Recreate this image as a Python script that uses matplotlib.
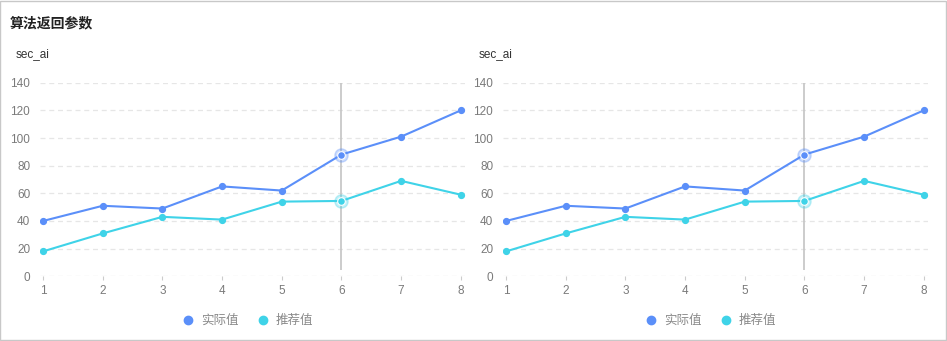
import matplotlib
matplotlib.use('Agg')
import matplotlib.pyplot as plt
from matplotlib.patches import Rectangle

plt.rcParams['font.family'] = ['Liberation Sans', 'Noto Sans CJK SC', 'DejaVu Sans']

# data
x = [1, 2, 3, 4, 5, 6, 7, 8]
shiji = [40, 51, 49, 65, 62, 88, 101, 120]
tuijian = [18, 31, 43, 41, 54, 54.5, 69, 59]
yticks = [0, 20, 40, 60, 80, 100, 120, 140]
hover_x = 6

azul = '#5B8FF9'
cian = '#3FD3E8'

fig = plt.figure(figsize=(9.47, 3.41), dpi=100)
fig.patches.append(Rectangle((0.0005, 0.0015), 0.998, 0.996, transform=fig.transFigure,
                             fill=False, edgecolor='#c8c8c8', linewidth=1))

fig.text(10 / 947, 1 - 23 / 341, '算法返回参数', fontsize=10, fontweight='bold',
         color='#222222', va='center', ha='left', family=['Noto Sans CJK SC'])

posiciones = [(40 / 947, 64.7 / 341, 425 / 947, 193.6 / 341),
              (503 / 947, 64.7 / 341, 425 / 947, 193.6 / 341)]

for pos in posiciones:
    ax = fig.add_axes(pos)
    ax.set_xlim(0.95, 8.07)
    ax.set_ylim(0, 140)
    for s in ax.spines.values():
        s.set_visible(False)
    ax.set_yticks(yticks)
    ax.set_xticks(x)
    ax.grid(axis='y', color='#e6e6e6', linestyle=(0, (4, 3)), linewidth=0.9)
    ax.set_axisbelow(True)
    ax.tick_params(axis='y', length=0, pad=7, labelsize=8.5, labelcolor='#7a7a7a')
    ax.tick_params(axis='x', length=3, width=0.8, color='#cccccc', pad=3,
                   labelsize=8.5, labelcolor='#7a7a7a')

    ax.vlines(hover_x, 4.5, 140, color='#c4c4c4', linewidth=1.2, zorder=2)

    l1, = ax.plot(x, shiji, color=azul, linewidth=1.5, marker='o', markersize=4.2,
                  label='实际值', zorder=3)
    l2, = ax.plot(x, tuijian, color=cian, linewidth=1.5, marker='o', markersize=4.2,
                  label='推荐值', zorder=3)

    i = x.index(hover_x)
    ax.plot(hover_x, shiji[i], 'o', markersize=9.5, markerfacecolor=azul, alpha=0.3,
            markeredgecolor=azul, markeredgewidth=1, zorder=4)
    ax.plot(hover_x, shiji[i], 'o', markersize=5.5, color=azul, markeredgecolor='white',
            markeredgewidth=0.8, zorder=5)
    ax.plot(hover_x, tuijian[i], 'o', markersize=9.5, markerfacecolor=cian, alpha=0.3,
            markeredgecolor=cian, markeredgewidth=1, zorder=4)
    ax.plot(hover_x, tuijian[i], 'o', markersize=5.5, color=cian, markeredgecolor='white',
            markeredgewidth=0.8, zorder=5)

    # y axis title
    bb = ax.get_position()
    fig.text(bb.x0 - 24 / 947, 1 - 54 / 341, 'sec_ai', fontsize=8.5, color='#333333',
             va='center', ha='left')

    leg = ax.legend(handles=[l1, l2], loc='center', bbox_to_anchor=(0.49, -0.23),
                    ncol=2, frameon=False, fontsize=9, handlelength=0.8,
                    handletextpad=0.6, columnspacing=1.6, labelcolor='#8a8a8a')
    for h in leg.legend_handles:
        h.set_linestyle('none')
        h.set_markersize(6)

fig.savefig('out.png', dpi=100)
